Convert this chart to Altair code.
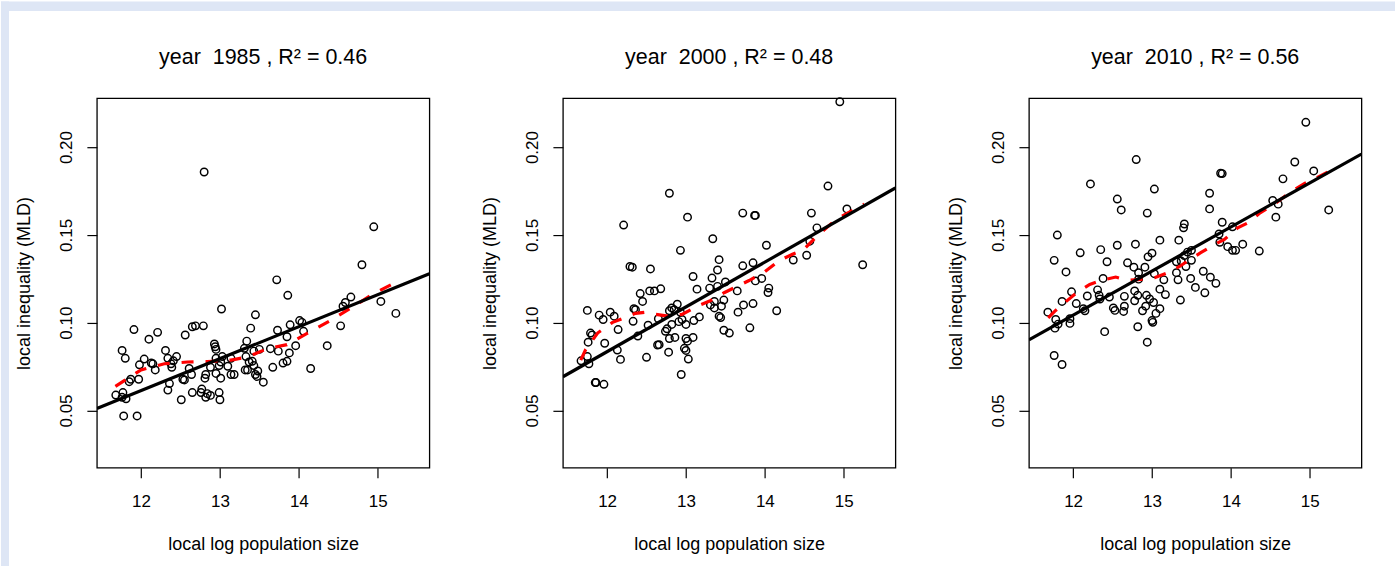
import altair as alt
import pandas as pd

# ---------------- data ----------------
YEARS = [1985, 2000, 2010]
R2 = ["0.46", "0.48", "0.56"]

X_1985 = [12.80, 14.95, 14.80, 13.72, 13.86, 13.02, 13.45, 14.66, 14.59, 14.56, 15.04, 15.23, 14.53, 14.36,
          14.15, 14.01, 14.04, 14.06, 13.89, 13.85, 13.96, 13.88, 13.85, 13.80, 13.73, 13.74, 13.64, 13.67,
          13.39, 13.34, 13.31, 13.33, 13.37, 13.41, 13.43, 13.50, 13.32, 13.35, 13.45, 13.48, 13.47, 13.55,
          13.43, 12.93, 12.94, 12.95, 12.95, 13.03, 13.01, 13.14, 12.99, 13.10, 13.14, 13.18, 12.95, 12.82,
          12.81, 12.88, 13.01, 12.99, 13.00, 12.84, 12.77, 12.76, 12.82, 12.88, 12.65, 12.64, 12.61, 12.55,
          12.53, 12.51, 12.56, 12.65, 12.69, 12.79, 12.21, 12.10, 11.91, 11.76, 11.80, 11.85, 11.87, 11.97,
          11.98, 12.04, 12.13, 12.15, 12.18, 12.31, 12.34, 12.39, 12.41, 12.45, 12.38, 12.36, 12.34, 11.68,
          11.77, 11.76, 11.81, 11.78, 11.95]
Y_1985 = [0.1858, 0.1546, 0.1330, 0.1244, 0.1156, 0.1078, 0.1045, 0.1146, 0.1115, 0.1094, 0.1121, 0.1053,
          0.0982, 0.0869, 0.0739, 0.1012, 0.1002, 0.0951, 0.0988, 0.0920, 0.0869, 0.0828, 0.0780, 0.0770,
          0.0957, 0.0838, 0.0852, 0.0746, 0.0969, 0.0895, 0.0854, 0.0807, 0.0776, 0.0780, 0.0756, 0.0848,
          0.0731, 0.0731, 0.0705, 0.0725, 0.0694, 0.0661, 0.0838, 0.0879, 0.0863, 0.0848, 0.0797, 0.0807,
          0.0776, 0.0797, 0.0756, 0.0752, 0.0705, 0.0705, 0.0711, 0.0705, 0.0684, 0.0746, 0.0684, 0.0602,
          0.0561, 0.0596, 0.0622, 0.0602, 0.0575, 0.0586, 0.0602, 0.0705, 0.0739, 0.0674, 0.0678, 0.0561,
          0.0930, 0.0977, 0.0982, 0.0982, 0.0945, 0.0906, 0.0961, 0.0842, 0.0797, 0.0664, 0.0678, 0.0678,
          0.0760, 0.0793, 0.0770, 0.0766, 0.0731, 0.0842, 0.0797, 0.0746, 0.0783, 0.0807, 0.0766, 0.0653,
          0.0616, 0.0588, 0.0602, 0.0575, 0.0567, 0.0469, 0.0469]

X_2000 = [14.95, 12.79, 14.80, 13.02, 12.21, 15.04, 14.59, 13.72, 13.87, 13.88, 14.66, 14.57, 13.34, 12.93,
          14.02, 14.53, 14.36, 15.24, 13.42, 13.40, 13.72, 13.85, 12.29, 12.32, 12.55, 13.09, 13.33, 13.50,
          13.40, 13.30, 13.14, 12.68, 12.60, 12.54, 12.42, 12.45, 13.65, 13.88, 13.96, 14.05, 14.04, 13.48,
          13.36, 13.31, 13.36, 13.45, 13.73, 13.85, 13.66, 14.15, 13.42, 13.44, 13.81, 13.48, 13.55, 13.17,
          13.10, 12.89, 12.79, 12.82, 12.85, 12.93, 12.95, 12.91, 13.00, 12.82, 12.76, 12.74, 12.79, 12.86,
          13.00, 13.02, 13.09, 12.98, 13.00, 13.03, 12.94, 12.78, 12.64, 12.66, 12.52, 12.65, 12.50, 12.39,
          12.33, 12.34, 12.36, 12.14, 12.13, 12.17, 12.04, 12.09, 11.90, 11.95, 11.97, 11.75, 11.79, 11.81,
          11.76, 11.75, 11.77, 11.67, 11.85, 11.86, 11.96]
Y_2000 = [0.2258, 0.1737, 0.1778, 0.1601, 0.1556, 0.1648, 0.1624, 0.1624, 0.1611, 0.1611, 0.1540, 0.1464,
          0.1478, 0.1412, 0.1441, 0.1384, 0.1357, 0.1330, 0.1359, 0.1300, 0.1324, 0.1341, 0.1320, 0.1316,
          0.1306, 0.1263, 0.1254, 0.1232, 0.1207, 0.1197, 0.1191, 0.1193, 0.1181, 0.1181, 0.1166, 0.1121,
          0.1181, 0.1238, 0.1252, 0.1197, 0.1172, 0.1129, 0.1121, 0.1101, 0.1084, 0.1094, 0.1101, 0.1109,
          0.1060, 0.1068, 0.1037, 0.1029, 0.0971, 0.0957, 0.0941, 0.1033, 0.1012, 0.1105, 0.1068, 0.1084,
          0.1074, 0.1059, 0.1018, 0.1006, 0.0990, 0.0990, 0.0965, 0.0951, 0.0910, 0.0916, 0.0910, 0.0895,
          0.0916, 0.0854, 0.0842, 0.0793, 0.0705, 0.0832, 0.0873, 0.0875, 0.0986, 0.1023, 0.0803, 0.0924,
          0.1008, 0.1080, 0.1074, 0.0961, 0.0844, 0.0791, 0.1060, 0.1037, 0.1043, 0.1018, 0.0883, 0.1070,
          0.0941, 0.0930, 0.0889, 0.0807, 0.0766, 0.0783, 0.0659, 0.0659, 0.0649]

X_2010 = [14.95, 12.80, 14.81, 13.87, 13.89, 15.05, 12.22, 13.03, 14.66, 13.73, 12.56, 14.53, 14.60, 12.61,
          12.94, 13.73, 15.24, 14.57, 13.89, 13.41, 13.40, 14.02, 13.85, 11.80, 13.34, 13.10, 12.56, 12.79,
          13.86, 13.96, 14.02, 14.06, 14.15, 14.36, 12.09, 12.35, 13.00, 12.95, 13.45, 13.50, 13.41, 13.50,
          13.31, 13.37, 13.43, 11.76, 12.43, 12.69, 12.77, 12.91, 12.83, 13.03, 13.31, 11.91, 13.65, 13.74,
          13.81, 13.49, 13.55, 13.33, 13.15, 12.83, 12.38, 13.10, 13.17, 13.67, 12.78, 12.82, 12.93, 12.97,
          13.02, 12.78, 12.65, 12.92, 12.88, 13.10, 13.05, 13.00, 13.01, 13.36, 12.82, 12.94, 12.40, 12.65,
          12.64, 12.53, 12.51, 12.46, 12.31, 12.34, 12.33, 12.18, 12.15, 12.13, 12.04, 11.98, 11.86, 11.96,
          11.96, 11.81, 11.78, 11.77, 11.68, 11.76, 11.86]
Y_2010 = [0.2141, 0.1929, 0.1915, 0.1851, 0.1849, 0.1864, 0.1790, 0.1761, 0.1819, 0.1737, 0.1704, 0.1696,
          0.1675, 0.1642, 0.1624, 0.1648, 0.1642, 0.1601, 0.1572, 0.1562, 0.1540, 0.1546, 0.1505, 0.1499,
          0.1470, 0.1470, 0.1441, 0.1447, 0.1458, 0.1433, 0.1412, 0.1412, 0.1447, 0.1408, 0.1398, 0.1416,
          0.1396, 0.1375, 0.1402, 0.1412, 0.1382, 0.1355, 0.1347, 0.1351, 0.1320, 0.1355, 0.1347, 0.1341,
          0.1316, 0.1316, 0.1285, 0.1279, 0.1285, 0.1289, 0.1293, 0.1259, 0.1224, 0.1252, 0.1201, 0.1244,
          0.1244, 0.1248, 0.1252, 0.1191, 0.1160, 0.1170, 0.1181, 0.1156, 0.1156, 0.1135, 0.1115, 0.1125,
          0.1150, 0.1094, 0.1068, 0.1080, 0.1053, 0.1012, 0.1002, 0.1129, 0.0977, 0.0889, 0.0949, 0.1094,
          0.1064, 0.1070, 0.1084, 0.1146, 0.1187, 0.1135, 0.1156, 0.1152, 0.1068, 0.1080, 0.1109, 0.1176,
          0.1121, 0.1023, 0.0996, 0.0992, 0.1018, 0.0969, 0.1060, 0.0813, 0.0762]

# smooth (loess) curves
LX_1985 = [11.675, 12.0, 12.295, 12.59, 12.84, 13.14, 13.35, 13.60, 13.85, 14.11, 14.40, 14.70, 14.95, 15.24]
LY_1985 = [0.0637, 0.0731, 0.0766, 0.0776, 0.0778, 0.0787, 0.0805, 0.0852, 0.0875, 0.0940, 0.1012, 0.1094,
           0.1166, 0.1232]
LX_2000 = [11.666, 11.73, 11.88, 12.07, 12.19, 12.36, 12.49, 12.62, 12.79, 12.95, 13.15, 13.30, 13.49, 13.80,
           14.00, 14.17, 14.35, 14.48, 14.69, 14.90, 15.26]
LY_2000 = [0.0787, 0.0848, 0.0941, 0.1002, 0.1023, 0.1053, 0.1060, 0.1047, 0.1036, 0.1047, 0.1095, 0.1123,
           0.1172, 0.1240, 0.1290, 0.1350, 0.1390, 0.1412, 0.1505, 0.1587, 0.1675]
LX_2010 = [11.684, 11.769, 11.917, 12.043, 12.211, 12.359, 12.540, 12.695, 12.865, 13.033, 13.201, 13.349,
           13.497, 13.623, 13.791, 13.918, 14.086, 14.212, 14.36, 14.53, 14.655, 14.78, 14.93, 15.08, 15.24]
LY_2010 = [0.1028, 0.1066, 0.1123, 0.1170, 0.1218, 0.1241, 0.1260, 0.1241, 0.1247, 0.1256, 0.1284, 0.1320,
           0.1365, 0.1400, 0.1445, 0.1474, 0.1540, 0.1568, 0.1622, 0.1669, 0.1710, 0.1751, 0.1792, 0.1823,
           0.1860]

# linear fits: y = a + b x
INTERCEPT = [-0.1571, -0.2225, -0.1969]
SLOPE = [0.0182, 0.0255, 0.0251]

X_TICKS = [12, 13, 14, 15]
Y_TICKS = [0.05, 0.10, 0.15, 0.20]
XDOM = [11.44, 15.655]
YDOM = [0.0174, 0.2278]

POINTS = [(X_1985, Y_1985), (X_2000, Y_2000), (X_2010, Y_2010)]
LOESS = [(LX_1985, LY_1985), (LX_2000, LY_2000), (LX_2010, LY_2010)]

# ---------------- styling / layout ----------------
FONT = "Liberation Sans"
BLUE = "#dee6f5"
W, H = 333, 370

xscale = alt.Scale(domain=XDOM, nice=False, zero=False)
yscale = alt.Scale(domain=YDOM, nice=False, zero=False)

x_axis = alt.Axis(values=X_TICKS, format="d", title="local log population size",
                  labelBaseline="alphabetic", labelPadding=29,
                  titleY=82.2, titleBaseline="alphabetic")
y_axis = alt.Axis(values=Y_TICKS, format=".2f", title="local inequality (MLD)",
                  labelAngle=270, labelAlign="center", labelBaseline="alphabetic", labelPadding=15,
                  titleAngle=270, titleAlign="center", titleBaseline="alphabetic",
                  titleX=-67.7, titleY=H / 2)


def panel(i, first):
    px, py = POINTS[i]
    lx, ly = LOESS[i]
    pts = pd.DataFrame({"x": px, "y": py})
    lo = pd.DataFrame({"x": lx, "y": ly})
    fit = pd.DataFrame({"x": XDOM, "y": [INTERCEPT[i] + SLOPE[i] * v for v in XDOM]})
    ttl = pd.DataFrame({"t": [f"year\u00a0 {YEARS[i]} , R\u00b2 = {R2[i]}"]})

    p = alt.Chart(pts).mark_point(shape="circle", filled=False, size=56, strokeWidth=1.45,
                                   color="black", opacity=1).encode(
        x=alt.X("x:Q", scale=xscale, axis=x_axis),
        y=alt.Y("y:Q", scale=yscale, axis=y_axis),
    )
    fl = alt.Chart(fit).mark_line(color="black", strokeWidth=3.2, clip=True).encode(
        x=alt.X("x:Q", scale=xscale), y=alt.Y("y:Q", scale=yscale))
    ls = alt.Chart(lo).mark_line(color="#ff0000", strokeWidth=3.2, strokeDash=[12, 12], clip=True).encode(
        x=alt.X("x:Q", scale=xscale), y=alt.Y("y:Q", scale=yscale))
    tt = alt.Chart(ttl).mark_text(font=FONT, fontSize=21.5, align="center", baseline="alphabetic",
                                  color="black").encode(
        text="t:N", x=alt.value(W / 2), y=alt.value(-34.7))
    layers = []
    if first:
        strip = pd.DataFrame({"k": [0]})
        left = alt.Chart(strip).mark_rect(color=BLUE).encode(
            x=alt.value(-96), x2=alt.value(-88), y=alt.value(-97), y2=alt.value(469))
        top = alt.Chart(strip).mark_rect(color=BLUE).encode(
            x=alt.value(-96), x2=alt.value(1300), y=alt.value(-97), y2=alt.value(-87.5))
        layers += [left, top]
    layers += [p, ls, fl, tt]
    return alt.layer(*layers).properties(width=W, height=H)


chart = alt.hconcat(panel(0, True), panel(1, False), panel(2, False),
                    spacing=133.7, bounds="flush").properties(
    padding=0, background="white"
).configure(font=FONT).configure_view(
    stroke="black", strokeWidth=1.3
).configure_axis(
    domain=False, grid=False, ticks=True, tickSize=10, tickWidth=1.2, tickColor="black",
    labelFont=FONT, labelFontSize=17, labelColor="black", labelOverlap=False,
    titleFont=FONT, titleFontSize=18, titleFontWeight="normal", titleColor="black",
)

chart.save("out.html", embed_options={"renderer": "svg", "actions": False})
